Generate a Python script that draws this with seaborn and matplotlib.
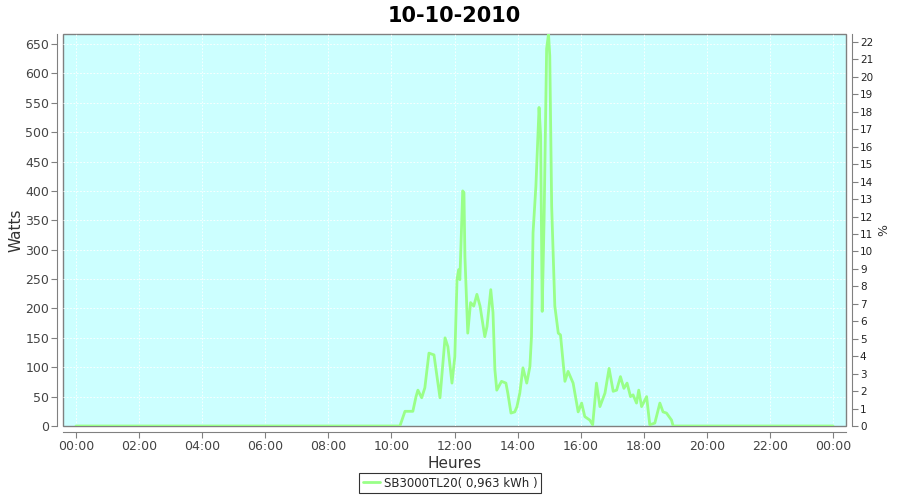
import seaborn as sns
import matplotlib.pyplot as plt
import pandas as pd

# heures (en decimal) et puissance en watts
heures = [0.0, 10.27, 10.43, 10.68, 10.78, 10.84, 10.96, 11.06, 11.19, 11.35, 11.43, 11.54,
          11.70, 11.79, 11.92, 12.01, 12.08, 12.13, 12.17, 12.26, 12.30, 12.33, 12.42, 12.51,
          12.61, 12.71, 12.81, 12.96, 13.03, 13.15, 13.22, 13.28, 13.34, 13.49, 13.63, 13.69,
          13.79, 13.91, 13.98, 14.07, 14.17, 14.29, 14.39, 14.44, 14.49, 14.58, 14.68, 14.73,
          14.78, 14.84, 14.92, 14.98, 15.02, 15.08, 15.18, 15.29, 15.36, 15.50, 15.60, 15.76,
          15.92, 16.03, 16.13, 16.29, 16.38, 16.50, 16.61, 16.77, 16.90, 17.03, 17.14, 17.26,
          17.37, 17.47, 17.58, 17.66, 17.77, 17.84, 17.93, 18.09, 18.19, 18.35, 18.51, 18.61,
          18.72, 18.88, 18.93, 24.0]
watts = [0, 0, 25, 25, 50, 61, 48, 65, 124, 121, 90, 48,
         150, 135, 73, 118, 249, 266, 249, 400, 397, 289, 158, 210,
         204, 224, 204, 152, 169, 232, 193, 96, 61, 76, 73, 56,
         22, 24, 33, 56, 99, 73, 101, 152, 329, 408, 542, 494,
         195, 352, 642, 667, 630, 374, 204, 158, 155, 76, 93, 73,
         24, 39, 16, 10, 2, 73, 33, 56, 98, 59, 61, 84,
         64, 73, 50, 53, 39, 61, 33, 50, 2, 5, 39, 24,
         22, 10, 0, 0]
etiquettes_x = ["00:00", "02:00", "04:00", "06:00", "08:00", "10:00", "12:00",
                "14:00", "16:00", "18:00", "20:00", "22:00", "00:00"]
nom_serie = "SB3000TL20( 0,963 kWh )"

datos = pd.DataFrame({"heure": heures, "watts": watts})

sns.set_style("white")
plt.rcParams['font.family'] = ['DejaVu Sans']
gris = "#808080"

fig = plt.figure(figsize=(9, 5), dpi=100)
ax = fig.add_axes([0.07, 0.148, 0.87, 0.784])
ax.set_facecolor("#ccffff")
ax.patch.set_edgecolor(gris)
ax.patch.set_linewidth(1)

sns.lineplot(data=datos, x="heure", y="watts", ax=ax, color="#99ff88",
             linewidth=2, label=nom_serie, legend=False)

ax.set_xlim(-0.41, 24.41)
ax.set_ylim(0, 667)
ax.set_xticks(range(0, 25, 2))
ax.set_xticklabels(etiquettes_x)
ax.set_yticks(range(0, 651, 50))
ax.grid(True, color="white", linestyle=(0, (2, 2)), linewidth=0.6)

for s in ["top", "right"]:
    ax.spines[s].set_visible(False)
for s in ["left", "bottom"]:
    ax.spines[s].set_position(("outward", 4))
    ax.spines[s].set_color(gris)
ax.tick_params(axis="both", direction="out", length=4, color=gris, pad=2,
               labelsize=9, labelcolor="#444444", left=True, bottom=True)

ax.set_xlabel("Heures", fontsize=11, color="#333333", labelpad=2)
ax.set_ylabel("Watts", fontsize=11, color="#333333")
ax.yaxis.set_label_coords(-0.05, 0.5)
ax.set_title("10-10-2010", fontsize=15, fontweight="bold", pad=9, color="black")

# axe de droite en pourcentage
ax2 = ax.twinx()
ax2.set_ylim(0, 22.46)
ax2.set_yticks(range(0, 23))
for s in ["top", "left", "bottom"]:
    ax2.spines[s].set_visible(False)
ax2.spines["right"].set_position(("outward", 4))
ax2.spines["right"].set_color(gris)
ax2.tick_params(axis="y", direction="out", length=4, color=gris, pad=2,
                labelsize=7.5, labelcolor="#222222", right=True)
ax2.set_ylabel("%", fontsize=9, color="#333333", labelpad=3)

leg = fig.legend(loc="lower center", bbox_to_anchor=(0.5, 0.002), fontsize=8.5,
                 frameon=True, fancybox=False, edgecolor="black",
                 handlelength=1.5, handletextpad=0.3, borderpad=0.3)
leg.get_frame().set_linewidth(0.8)

plt.savefig("out.png", dpi=100)
